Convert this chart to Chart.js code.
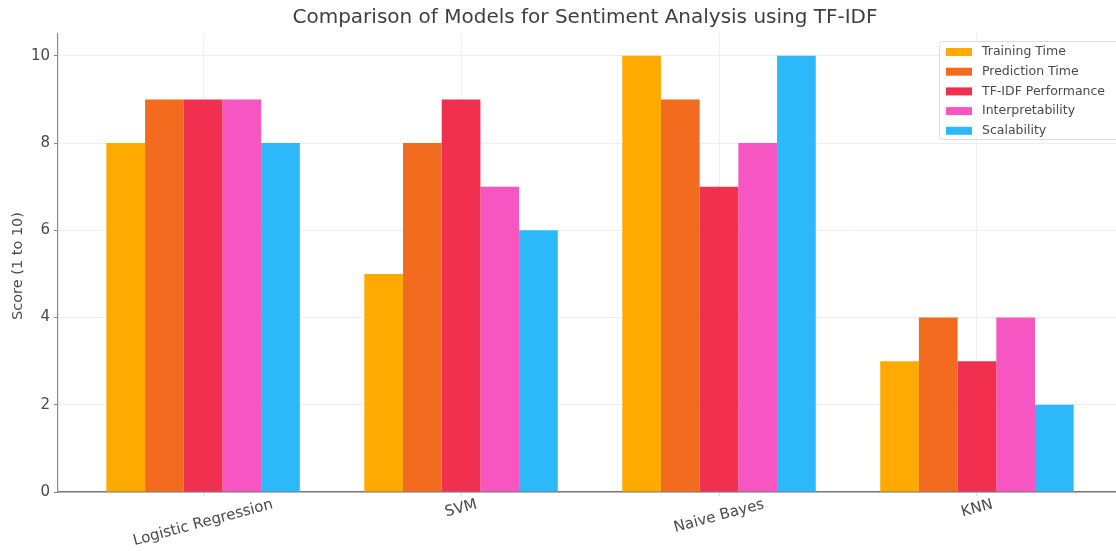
<!DOCTYPE html>
<html>
<head>
<meta charset="utf-8">
<title>Comparison of Models for Sentiment Analysis using TF-IDF</title>
<script src="https://cdn.jsdelivr.net/npm/chart.js@4.4.1/dist/chart.umd.min.js"></script>
<style>
  html, body { margin: 0; padding: 0; background: #ffffff; }
  #wrap { width: 1116px; height: 551px; }
</style>
</head>
<body>
<div id="wrap"><canvas id="c" width="1116" height="551"></canvas></div>
<script>
// Models compared along the x axis
const models = ['Logistic Regression', 'SVM', 'Naive Bayes', 'KNN'];

// Criteria (one bar series each)
const criteria = ['Training Time', 'Prediction Time', 'TF-IDF Performance', 'Interpretability', 'Scalability'];

// Scores per criterion, in model order
const trainingTime      = [8, 5, 10, 3];
const predictionTime    = [9, 8, 9, 4];
const tfidfPerformance  = [9, 9, 7, 3];
const interpretability  = [9, 7, 8, 4];
const scalability       = [8, 6, 10, 2];

// Y axis ticks
const yTicks = [0, 2, 4, 6, 8, 10];

const chartTitle = 'Comparison of Models for Sentiment Analysis using TF-IDF';
const yTitle = 'Score (1 to 10)';

const seriesValues = [trainingTime, predictionTime, tfidfPerformance, interpretability, scalability];
const seriesColors = ['#FFAA00', '#F26B1F', '#F0304E', '#F655C2', '#2BB9F9'];

const FONT = '"DejaVu Sans", "Liberation Sans", sans-serif';
const TEXT = '#4a4a4a';

const datasets = criteria.map((name, i) => ({
  label: name,
  data: seriesValues[i].map((v, j) => ({ x: j, y: v })),
  backgroundColor: seriesColors[i],
  borderWidth: 0,
  categoryPercentage: 0.75,
  barPercentage: 1.0
}));

// Title, y-axis title, rotated model labels and the legend box
const decorations = {
  id: 'decorations',
  afterDraw(chart) {
    const ctx = chart.ctx;
    const area = chart.chartArea;
    const xs = chart.scales.x;

    ctx.save();
    ctx.fillStyle = '#3f3f3f';
    ctx.font = '20px ' + FONT;
    ctx.textAlign = 'center';
    ctx.textBaseline = 'middle';
    ctx.fillText(chartTitle, 585, 18);
    ctx.restore();

    ctx.save();
    ctx.fillStyle = TEXT;
    ctx.font = '14.5px ' + FONT;
    ctx.translate(18, 266);
    ctx.rotate(-Math.PI / 2);
    ctx.textAlign = 'center';
    ctx.textBaseline = 'middle';
    ctx.fillText(yTitle, 0, 0);
    ctx.restore();

    const ang = 15 * Math.PI / 180;
    ctx.save();
    ctx.fillStyle = TEXT;
    ctx.font = '15px ' + FONT;
    models.forEach((m, i) => {
      const w = ctx.measureText(m).width;
      const h = 13;
      const bboxH = w * Math.sin(ang) + h * Math.cos(ang);
      const cx = xs.getPixelForValue(i);
      const cy = area.bottom + 6 + bboxH / 2;
      ctx.save();
      ctx.translate(cx, cy);
      ctx.rotate(-ang);
      ctx.textAlign = 'center';
      ctx.textBaseline = 'middle';
      ctx.fillText(m, 0, 0);
      ctx.restore();
    });
    ctx.restore();

    // legend
    const bx = 939, by = 41, bw = 190, bh = 98;
    ctx.save();
    ctx.fillStyle = 'rgba(255,255,255,0.85)';
    ctx.strokeStyle = '#dcdcdc';
    ctx.lineWidth = 1;
    ctx.beginPath();
    ctx.roundRect(bx + 0.5, by + 0.5, bw, bh, 3);
    ctx.fill();
    ctx.stroke();
    ctx.font = '12.5px ' + FONT;
    ctx.textAlign = 'left';
    ctx.textBaseline = 'middle';
    criteria.forEach((name, i) => {
      const yy = 52 + i * 19.7;
      ctx.fillStyle = seriesColors[i];
      ctx.fillRect(946, yy - 4, 26, 8);
      ctx.fillStyle = TEXT;
      ctx.fillText(name, 982, yy);
    });
    ctx.restore();
  }
};

new Chart(document.getElementById('c'), {
  type: 'bar',
  data: { datasets },
  plugins: [decorations],
  options: {
    responsive: false,
    animation: false,
    layout: { padding: { top: 34, left: 0, right: 0, bottom: 0 } },
    plugins: {
      legend: { display: false },
      title: { display: false },
      tooltip: { enabled: false }
    },
    scales: {
      x: {
        type: 'linear',
        min: -0.5625,
        max: 3.539,
        offset: false,
        afterBuildTicks(scale) {
          scale.ticks = models.map((_, i) => ({ value: i }));
        },
        afterFit(scale) { scale.height = 59; },
        ticks: { display: false },
        grid: {
          offset: false,
          color: '#efefef',
          lineWidth: 1,
          drawTicks: true,
          tickLength: 4,
          tickColor: '#e0e0e0'
        },
        border: { display: true, color: '#7a7a7a', width: 1.5 }
      },
      y: {
        min: 0,
        max: 10.5,
        afterBuildTicks(scale) {
          scale.ticks = yTicks.map(v => ({ value: v }));
        },
        afterFit(scale) { scale.width = 58; },
        ticks: {
          color: TEXT,
          font: { family: FONT, size: 15 },
          padding: 4
        },
        grid: {
          color: '#eeeeee',
          lineWidth: 1,
          drawTicks: true,
          tickLength: 4,
          tickColor: '#8a8a8a'
        },
        border: { display: true, color: '#8a8a8a', width: 1.2 }
      }
    }
  }
});
</script>
</body>
</html>
